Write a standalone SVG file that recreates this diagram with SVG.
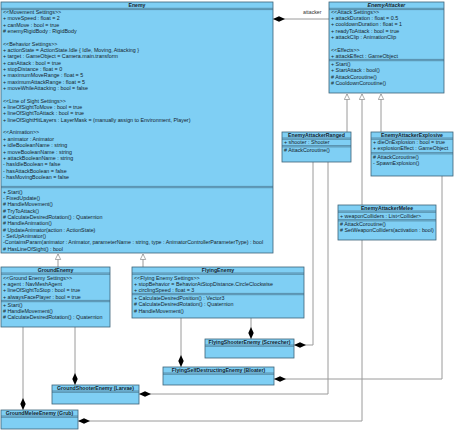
<svg xmlns="http://www.w3.org/2000/svg" width="455" height="430" viewBox="0 0 455 430">
<style>
  .box { fill: #7fcff4; stroke: #3d6378; stroke-width: 0.8; }
  .sep { stroke: #3d6378; stroke-width: 0.6; fill: none; }
  .t { font-family: "Liberation Sans", Arial, sans-serif; font-size: 5.35px; fill: #14232c; }
  .ttl { font-family: "Liberation Sans", Arial, sans-serif; font-size: 5.2px; font-weight: bold; fill: #14232c; text-anchor: middle; }
  .it { font-style: italic; }
  .c { stroke: #9a9a9a; stroke-width: 1; fill: none; }
  .lbl { font-family: "Liberation Sans", Arial, sans-serif; font-size: 5.2px; fill: #333; }
</style>
<defs>
  <marker id="tri" markerWidth="7" markerHeight="7" refX="6" refY="3" orient="auto" markerUnits="userSpaceOnUse">
    <path d="M0.5,0.3 L6,3 L0.5,5.7 Z" fill="#ffffff" stroke="#8a8a8a" stroke-width="0.7"/>
  </marker>
  <marker id="dia" markerWidth="13" markerHeight="6" refX="12" refY="3" orient="auto" markerUnits="userSpaceOnUse">
    <path d="M0,3 L6,0.3 L12,3 L6,5.7 Z" fill="#000"/>
  </marker>
</defs>
<rect width="455" height="430" fill="#ffffff"/>

<g id="connectors">
  <path class="c" d="M329,19 L273,19" marker-end="url(#dia)"/>
  <text class="lbl" x="303" y="13.5">attacker</text>
  <path class="c" d="M58,267 L58,254" marker-end="url(#tri)"/>
  <path class="c" d="M143,267 L143,254" marker-end="url(#tri)"/>
  <path class="c" d="M347,132 L347,94" marker-end="url(#tri)"/>
  <path class="c" d="M362,205 L362,94" marker-end="url(#tri)"/>
  <path class="c" d="M381,132 L381,94" marker-end="url(#tri)"/>
  <path class="c" d="M23,327 L23,410" marker-end="url(#dia)"/>
  <path class="c" d="M75,327 L75,385" marker-end="url(#dia)"/>
  <path class="c" d="M181,318 L181,367" marker-end="url(#dia)"/>
  <path class="c" d="M251,318 L251,339" marker-end="url(#dia)"/>
  <path class="c" d="M313,162 L313,345 L294,345" marker-end="url(#dia)"/>
  <path class="c" d="M328,162 L328,394 L139,394" marker-end="url(#dia)"/>
  <path class="c" d="M362,240 L362,421 L78,421" marker-end="url(#dia)"/>
  <path class="c" d="M442,176 L442,379 L274,379" marker-end="url(#dia)"/>
</g>

<g id="Enemy">
  <rect class="box" x="1" y="2" width="272" height="251"/>
  <path class="sep" d="M1,8.3 H273 M1,9.6 H273 M1,186.4 H273 M1,187.7 H273"/>
  <text class="ttl" x="137" y="7.2">Enemy</text>
  <text class="t" x="3">
    <tspan x="3" y="13.8">&lt;&lt;Movement Settings&gt;&gt;</tspan>
    <tspan x="3" y="20.15">+ moveSpeed : float = 2</tspan>
    <tspan x="3" y="26.5">+ canMove : bool = true</tspan>
    <tspan x="3" y="32.85"># enemyRigidBody : RigidBody</tspan>
    <tspan x="3" y="45.55">&lt;&lt;Behavior Settings&gt;&gt;</tspan>
    <tspan x="3" y="51.9">+ actionState = ActionState.Idle { Idle, Moving, Attacking }</tspan>
    <tspan x="3" y="58.25">+ target : GameObject = Camera.main.transform</tspan>
    <tspan x="3" y="64.6">+ canAttack : bool = true</tspan>
    <tspan x="3" y="70.95">+ stopDistance : float = 0</tspan>
    <tspan x="3" y="77.3">+ maximumMoveRange : float = 5</tspan>
    <tspan x="3" y="83.65">+ maximumAttackRange : float = 5</tspan>
    <tspan x="3" y="90">+ moveWhileAttacking : bool = false</tspan>
    <tspan x="3" y="102.7">&lt;&lt;Line of Sight Settings&gt;&gt;</tspan>
    <tspan x="3" y="109.05">+ lineOfSightToMove : bool = true</tspan>
    <tspan x="3" y="115.4">+ lineOfSightToAttack : bool = true</tspan>
    <tspan x="3" y="121.75">+ lineOfSightHitLayers : LayerMask = (manually assign to Environment, Player)</tspan>
    <tspan x="3" y="134.45">&lt;&lt;Animation&gt;&gt;</tspan>
    <tspan x="3" y="140.8">+ animator : Animator</tspan>
    <tspan x="3" y="147.15">+ idleBooleanName : string</tspan>
    <tspan x="3" y="153.5">+ moveBooleanName : string</tspan>
    <tspan x="3" y="159.85">+ attackBooleanName : string</tspan>
    <tspan x="3" y="166.2">- hasIdleBoolean = false</tspan>
    <tspan x="3" y="172.55">- hasAttackBoolean = false</tspan>
    <tspan x="3" y="178.9">- hasMovingBoolean = false</tspan>
  </text>
  <text class="t" x="3">
    <tspan x="3" y="193.8">+ Start()</tspan>
    <tspan x="3" y="200.13">- FixedUpdate()</tspan>
    <tspan x="3" y="206.46"># HandleMovement()</tspan>
    <tspan x="3" y="212.79"># TryToAttack()</tspan>
    <tspan x="3" y="219.12"># CalculateDesiredRotation() : Quaternion</tspan>
    <tspan x="3" y="225.45"># HandleAnimation()</tspan>
    <tspan x="3" y="231.78"># UpdateAnimator(action : ActionState)</tspan>
    <tspan x="3" y="238.11">- SetUpAnimator()</tspan>
    <tspan x="3" y="244.44">-ContainsParam(animator : Animator, parameterName : string, type : AnimatorControllerParameterType) : bool</tspan>
    <tspan x="3" y="250.77"># HasLineOfSight() : bool</tspan>
  </text>
</g>

<g id="EnemyAttacker">
  <rect class="box" x="329" y="2" width="115" height="91"/>
  <path class="sep" d="M329,8.3 H444 M329,9.6 H444 M329,59.4 H444 M329,60.7 H444"/>
  <text class="ttl it" x="386.5" y="7.2">EnemyAttacker</text>
  <text class="t">
    <tspan x="331" y="13.8">&lt;&lt;Attack Settings&gt;&gt;</tspan>
    <tspan x="331" y="20.1">+ attackDuration : float = 0.5</tspan>
    <tspan x="331" y="26.4">+ cooldownDuration : float = 1</tspan>
    <tspan x="331" y="32.7">+ readyToAttack : bool = true</tspan>
    <tspan x="331" y="39">+ attackClip : AnimationClip</tspan>
    <tspan x="331" y="51.6">&lt;&lt;Effects&gt;&gt;</tspan>
    <tspan x="331" y="57.9">+ attackEffect : GameObject</tspan>
    <tspan x="331" y="66">+ Start()</tspan>
    <tspan x="331" y="72.3">+ StartAttack : bool()</tspan>
    <tspan x="331" y="78.6"># AttackCoroutine()</tspan>
    <tspan x="331" y="84.9"># CooldownCoroutine()</tspan>
  </text>
</g>

<g id="EnemyAttackerRanged">
  <rect class="box" x="282" y="132" width="69" height="30"/>
  <path class="sep" d="M282,138 H351 M282,139.3 H351 M282,145.6 H351 M282,146.9 H351"/>
  <text class="ttl" x="316.5" y="137">EnemyAttackerRanged</text>
  <text class="t">
    <tspan x="284" y="143.6">+ shooter : Shooter</tspan>
    <tspan x="284" y="152"># AttackCoroutine()</tspan>
  </text>
</g>

<g id="EnemyAttackerExplosive">
  <rect class="box" x="371" y="132" width="82" height="44"/>
  <path class="sep" d="M371,138 H453 M371,139.3 H453 M371,152.6 H453 M371,153.9 H453"/>
  <text class="ttl" x="412" y="137">EnemyAttackerExplosive</text>
  <text class="t">
    <tspan x="373" y="143.8">+ dieOnExplosion : bool = true</tspan>
    <tspan x="373" y="150.3">+ explosionEffect : GameObject</tspan>
    <tspan x="373" y="158.8"># AttackCoroutine()</tspan>
    <tspan x="373" y="165">- SpawnExplosion()</tspan>
  </text>
</g>

<g id="EnemyAttackerMelee">
  <rect class="box" x="338" y="205" width="98" height="35"/>
  <path class="sep" d="M338,211 H436 M338,212.3 H436 M338,219.6 H436 M338,220.9 H436"/>
  <text class="ttl" x="387" y="210">EnemyAttackerMelee</text>
  <text class="t">
    <tspan x="340" y="217.6">+ weaponColliders : List&lt;Collider&gt;</tspan>
    <tspan x="340" y="226"># AttackCoroutine()</tspan>
    <tspan x="340" y="232"># SetWeaponColliders(activation : bool)</tspan>
  </text>
</g>

<g id="GroundEnemy">
  <rect class="box" x="1" y="267" width="109" height="60"/>
  <path class="sep" d="M1,273 H110 M1,274.3 H110 M1,300.4 H110 M1,301.7 H110"/>
  <text class="ttl" x="55.5" y="272">GroundEnemy</text>
  <text class="t">
    <tspan x="3" y="279.8">&lt;&lt;Ground Enemy Settings&gt;&gt;</tspan>
    <tspan x="3" y="286">+ agent : NavMeshAgent</tspan>
    <tspan x="3" y="292.3">+ lineOfSightToStop : bool = true</tspan>
    <tspan x="3" y="298.6">+ alwaysFacePlayer : bool = true</tspan>
    <tspan x="3" y="307">+ Start()</tspan>
    <tspan x="3" y="313"># HandleMovement()</tspan>
    <tspan x="3" y="319"># CalculateDesiredRotation() : Quaternion</tspan>
  </text>
</g>

<g id="FlyingEnemy">
  <rect class="box" x="132" y="267" width="172" height="51"/>
  <path class="sep" d="M132,273 H304 M132,274.3 H304 M132,293.4 H304 M132,294.7 H304"/>
  <text class="ttl" x="218" y="272">FlyingEnemy</text>
  <text class="t">
    <tspan x="134" y="279.8">&lt;&lt;Flying Enemy Settings&gt;&gt;</tspan>
    <tspan x="134" y="286">+ stopBehavior = BehaviorAtStopDistance.CircleClockwise</tspan>
    <tspan x="134" y="292">+ circlingSpeed : float = 3</tspan>
    <tspan x="134" y="300">+ CalculateDesiredPosition() : Vector3</tspan>
    <tspan x="134" y="306.3"># CalculateDesiredRotation() : Quaternion</tspan>
    <tspan x="134" y="312.6"># HandleMovement()</tspan>
  </text>
</g>

<g id="FlyingShooterEnemy">
  <rect class="box" x="205" y="339" width="89" height="19"/>
  <path class="sep" d="M205,345 H294 M205,346.3 H294"/>
  <text class="ttl" x="249.5" y="344">FlyingShooterEnemy (Screecher)</text>
</g>

<g id="FlyingSelfDestructingEnemy">
  <rect class="box" x="163" y="367" width="111" height="18"/>
  <path class="sep" d="M163,373 H274 M163,374.3 H274"/>
  <text class="ttl" x="218.5" y="372">FlyingSelfDestructingEnemy (Bloater)</text>
</g>

<g id="GroundShooterEnemy">
  <rect class="box" x="52" y="385" width="87" height="19"/>
  <path class="sep" d="M52,391 H139 M52,392.3 H139"/>
  <text class="ttl" x="95.5" y="390">GroundShooterEnemy (Larvae)</text>
</g>

<g id="GroundMeleeEnemy">
  <rect class="box" x="1" y="410" width="77" height="19"/>
  <path class="sep" d="M1,416 H78 M1,417.3 H78"/>
  <text class="ttl" x="39.5" y="415">GroundMeleeEnemy (Grub)</text>
</g>
</svg>
